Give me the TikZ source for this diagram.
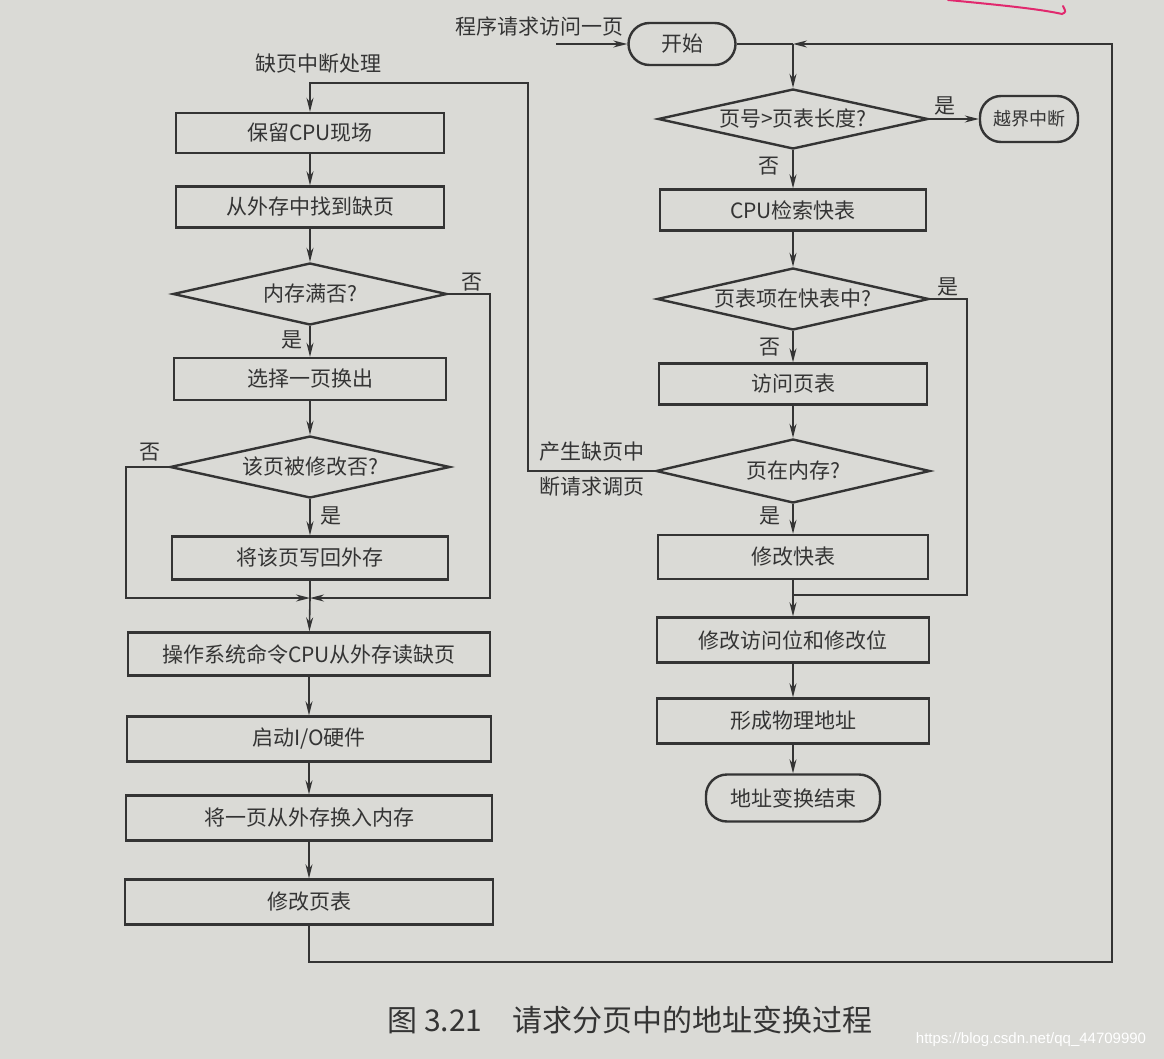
\documentclass[tikz,border=0pt]{standalone}
\usepackage{fontspec}
\setmainfont{Noto Sans CJK SC}
\newfontfamily\wmfont{Liberation Sans}
\usetikzlibrary{shapes.geometric,arrows.meta}
\definecolor{paper}{RGB}{218,218,214}
\definecolor{ink}{RGB}{52,52,52}
\definecolor{pen}{RGB}{225,40,110}
\tikzset{
  box/.style={draw=ink, line width=2.4pt, rectangle, inner sep=0pt, text=ink,
              font=\fontsize{21}{24}\selectfont},
  dia/.style={draw=ink, line width=2.4pt, diamond, aspect=4.4, inner sep=0pt},
  diatext/.style={text=ink, font=\fontsize{21}{24}\selectfont, inner sep=0pt},
  term/.style={draw=ink, line width=2.4pt, rectangle, rounded corners=21pt, inner sep=0pt,
               text=ink, font=\fontsize{21}{24}\selectfont},
  conn/.style={draw=ink, line width=1.6pt},
  arr/.style={conn, -{Stealth[length=14pt,width=7pt]}},
  lab/.style={text=ink, font=\fontsize{21}{24}\selectfont, inner sep=0pt}
}
\begin{document}
\begin{tikzpicture}[x=1pt,y=-1pt]
\fill[paper] (0,0) rectangle (1164,1059);
\useasboundingbox (0,0) rectangle (1164,1059);

% pen mark
\draw[pen, line width=2pt, line cap=round] (948,0) .. controls (1000,5) and (1040,9) .. (1062,14) .. controls (1066,12) .. (1063,6);

% ---------- right column ----------
\node[term, minimum width=107pt, minimum height=42pt] (start) at (682,44) {开始};
\coordinate (req) at (556,44);
\node[lab] (reqlab) at (539,27) {程序请求访问一页};
\coordinate (j0) at (793,44);

\node[dia, minimum width=270pt, minimum height=60pt,
      label={[diatext]center:页号>页表长度?}] (d1) at (793,119) {};
\node[term, minimum width=98pt, minimum height=46pt,
      font=\fontsize{18}{21}\selectfont] (oob) at (1029,119) {越界中断};
\node[box, minimum width=266pt, minimum height=41pt] (cpu) at (793,210) {CPU检索快表};
\node[dia, minimum width=272pt, minimum height=62pt,
      label={[diatext]center:页表项在快表中?}] (d2) at (793,299) {};
\node[box, minimum width=268pt, minimum height=41pt] (vpt) at (793,384) {访问页表};
\node[dia, minimum width=274pt, minimum height=64pt,
      label={[diatext]center:页在内存?}] (d3) at (793,471) {};
\node[box, minimum width=270pt, minimum height=44pt] (mtlb) at (793,557) {修改快表};
\coordinate (j2) at (793,595);
\node[box, minimum width=272pt, minimum height=45pt] (mbits) at (793,640) {修改访问位和修改位};
\node[box, minimum width=272pt, minimum height=45pt] (phys) at (793,721) {形成物理地址};
\node[term, minimum width=174pt, minimum height=47pt] (done) at (793,798) {地址变换结束};

% ---------- left column ----------
\node[lab] (pflab) at (318,64) {缺页中断处理};
\node[box, minimum width=268pt, minimum height=40pt] (b1) at (310,133) {保留CPU现场};
\node[box, minimum width=268pt, minimum height=41pt] (b2) at (310,207) {从外存中找到缺页};
\node[dia, minimum width=274pt, minimum height=62pt,
      label={[diatext]center:内存满否?}] (dl1) at (310,294) {};
\node[box, minimum width=272pt, minimum height=42pt] (b3) at (310,379) {选择一页换出};
\node[dia, minimum width=280pt, minimum height=62pt,
      label={[diatext]center:该页被修改否?}] (dl2) at (310,467) {};
\node[box, minimum width=276pt, minimum height=43pt] (b4) at (310,558) {将该页写回外存};
\coordinate (jl) at (310,598);
\node[box, minimum width=362pt, minimum height=43pt] (b5) at (309,654) {操作系统命令CPU从外存读缺页};
\node[box, minimum width=364pt, minimum height=45pt] (b6) at (309,739) {启动I/O硬件};
\node[box, minimum width=366pt, minimum height=45pt] (b7) at (309,818) {将一页从外存换入内存};
\node[box, minimum width=368pt, minimum height=45pt] (b8) at (309,902) {修改页表};

% ---------- right connectors ----------
\draw[arr] (req) -- (start);
\draw[conn] (start) -- (j0);
\draw[arr] (j0) -- (d1);
\draw[arr] (d1) -- (oob);
\node[lab] (y1) at (945,106) {是};
\draw[arr] (d1) -- (cpu);
\node[lab] (n1) at (769,166) {否};
\draw[arr] (cpu) -- (d2);
\coordinate (r2a) at (967,299);
\coordinate (r2b) at (967,595);
\draw[conn] (d2) -- (r2a) -- (r2b) -- (j2);
\node[lab] (y2) at (948,287) {是};
\draw[arr] (d2) -- (vpt);
\node[lab] (n2) at (770,347) {否};
\draw[arr] (vpt) -- (d3);
\draw[arr] (d3) -- (mtlb);
\node[lab] (y3) at (770,516) {是};
\draw[conn] (mtlb) -- (j2);
\draw[arr] (j2) -- (mbits);
\draw[arr] (mbits) -- (phys);
\draw[arr] (phys) -- (done);

% page fault branch
\coordinate (l3a) at (528,471);
\coordinate (l3b) at (528,83);
\coordinate (l3c) at (310,83);
\draw[arr] (d3) -- (l3a) -- (l3b) -- (l3c) -- (b1);
\node[lab] (pf1) at (592,452) {产生缺页中};
\node[lab] (pf2) at (592,487) {断请求调页};

% ---------- left connectors ----------
\draw[arr] (b1) -- (b2);
\draw[arr] (b2) -- (dl1);
\draw[arr] (dl1) -- (b3);
\node[lab] (y4) at (292,340) {是};
\coordinate (r1a) at (490,294);
\coordinate (r1b) at (490,598);
\draw[arr] (dl1) -- (r1a) -- (r1b) -- (jl);
\node[lab] (n4) at (472,282) {否};
\draw[arr] (b3) -- (dl2);
\coordinate (l2a) at (126,467);
\coordinate (l2b) at (126,598);
\draw[arr] (dl2) -- (l2a) -- (l2b) -- (jl);
\node[lab] (n5) at (150,452) {否};
\draw[arr] (dl2) -- (b4);
\node[lab] (y5) at (331,516) {是};
\draw[conn] (b4) -- (jl);
\draw[arr] (jl) -- (b5);
\draw[arr] (b5) -- (b6);
\draw[arr] (b6) -- (b7);
\draw[arr] (b7) -- (b8);

% loop back to start
\coordinate (lb) at (309,962);
\coordinate (rb) at (1112,962);
\coordinate (rt) at (1112,44);
\draw[arr] (b8) -- (lb) -- (rb) -- (rt) -- (j0);

% caption and watermark
\node[text=ink, font=\fontsize{30}{34}\selectfont, inner sep=0pt] (cap) at (630,1020) {图 3.21\quad 请求分页中的地址变换过程};
\node[text=white, font=\wmfont\fontsize{15}{17}\selectfont, inner sep=0pt] (wm) at (1031,1040) {https://blog.csdn.net/qq\_44709990};
\end{tikzpicture}
\end{document}
